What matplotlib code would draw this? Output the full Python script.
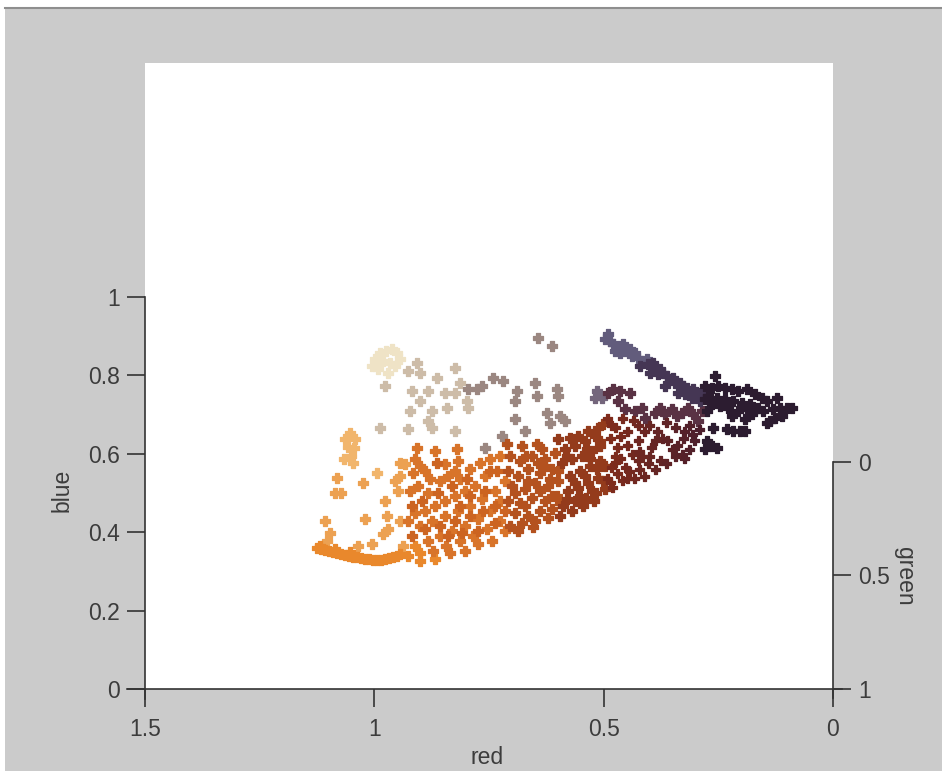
import matplotlib
matplotlib.use("Agg")
import matplotlib.pyplot as plt
from matplotlib.patches import Rectangle
from matplotlib.lines import Line2D
import numpy as np

plt.rcParams['font.family'] = ['Liberation Sans', 'DejaVu Sans']

# ---------------- data (red, blue) per colour group ----------------
cream_red = [0.998, 0.988, 0.975, 0.961, 0.951, 0.981, 0.966, 0.992, 0.955, 1.005, 0.970, 0.944]
cream_blue = [0.842, 0.857, 0.862, 0.867, 0.857, 0.837, 0.832, 0.816, 0.824, 0.824, 0.806, 0.842]

tan_red = [0.977, 0.988, 0.927, 0.907, 0.900, 0.863, 0.824, 0.813, 0.918, 0.883, 0.846, 0.824,
           0.900, 0.922, 0.874, 0.842, 0.883, 0.927, 0.874, 0.824, 0.798, 0.796]
tan_blue = [0.773, 0.666, 0.811, 0.832, 0.806, 0.793, 0.819, 0.781, 0.760, 0.760, 0.755, 0.755,
            0.735, 0.709, 0.709, 0.717, 0.684, 0.663, 0.666, 0.658, 0.735, 0.717]

graybrown_red = [0.796, 0.776, 0.765, 0.741, 0.719, 0.643, 0.613, 0.650, 0.645, 0.689, 0.693,
                 0.602, 0.600, 0.623, 0.595, 0.584, 0.617, 0.693, 0.671, 0.722, 0.759]
graybrown_blue = [0.765, 0.765, 0.773, 0.793, 0.786, 0.895, 0.875, 0.781, 0.747, 0.760, 0.735,
                  0.765, 0.747, 0.704, 0.696, 0.684, 0.679, 0.689, 0.658, 0.645, 0.615]

graypurple_red = [0.514, 0.519, 0.504]
graypurple_blue = [0.760, 0.742, 0.742]

lightorange_red = [1.053, 1.064, 1.042, 1.057, 1.044, 1.051, 1.066, 1.047, 0.994]
lightorange_blue = [0.653, 0.638, 0.638, 0.617, 0.615, 0.594, 0.587, 0.577, 0.551]

paleorange_red = [1.081, 1.025, 1.086, 1.073, 0.955, 0.948, 0.977, 0.933, 0.944, 1.108, 1.020,
                  0.972, 1.097, 0.981, 0.970, 1.036, 1.005, 1.103, 0.944, 0.944, 0.937]
paleorange_blue = [0.538, 0.526, 0.500, 0.500, 0.531, 0.505, 0.480, 0.574, 0.577, 0.429, 0.434,
                   0.441, 0.398, 0.395, 0.408, 0.365, 0.370, 0.378, 0.543, 0.429, 0.365]

band_red = [1.125, 1.116, 1.108, 1.099, 1.090, 1.081, 1.073, 1.064, 1.055, 1.047, 1.038, 1.029,
            1.020, 1.012, 1.003, 0.994, 0.985, 0.977, 0.968, 0.959, 0.951, 1.118, 1.086, 1.053,
            0.944, 0.927, 0.900, 0.900, 0.868, 0.911]
band_blue = [0.360, 0.357, 0.355, 0.352, 0.349, 0.347, 0.344, 0.342, 0.339, 0.337, 0.337, 0.334,
             0.332, 0.332, 0.329, 0.329, 0.329, 0.332, 0.334, 0.337, 0.339, 0.365, 0.357, 0.349,
             0.344, 0.339, 0.327, 0.347, 0.332, 0.365]

darkorange_red = [0.911, 0.900, 0.916, 0.889, 0.879, 0.905, 0.922, 0.883, 0.857, 0.839, 0.824,
                  0.813, 0.791, 0.770, 0.748, 0.726, 0.759, 0.780, 0.802, 0.824, 0.846, 0.868,
                  0.889, 0.911, 0.927, 0.900, 0.874, 0.846, 0.818, 0.791, 0.765, 0.737, 0.715,
                  0.726, 0.748, 0.774, 0.802, 0.831, 0.857, 0.883, 0.844, 0.813, 0.785, 0.754,
                  0.726, 0.715, 0.743, 0.774, 0.802, 0.835, 0.872, 0.907, 0.868, 0.846, 0.820,
                  0.818]
darkorange_blue = [0.587, 0.569, 0.551, 0.556, 0.536, 0.518, 0.505, 0.500, 0.531, 0.543, 0.556,
                   0.536, 0.561, 0.577, 0.587, 0.594, 0.543, 0.518, 0.505, 0.492, 0.480, 0.467,
                   0.454, 0.449, 0.429, 0.416, 0.429, 0.441, 0.454, 0.467, 0.485, 0.505, 0.531,
                   0.480, 0.454, 0.434, 0.416, 0.403, 0.390, 0.378, 0.365, 0.378, 0.390, 0.408,
                   0.429, 0.403, 0.378, 0.370, 0.352, 0.347, 0.352, 0.615, 0.607, 0.574, 0.612,
                   0.582]

deeporange_red = [0.863, 0.831, 0.798, 0.748, 0.737, 0.763, 0.791, 0.824, 0.857, 0.889, 0.918,
                  0.839, 0.809, 0.774, 0.737, 0.759, 0.791, 0.861, 0.896, 0.918, 0.813, 0.715,
                  0.733]
deeporange_blue = [0.577, 0.518, 0.536, 0.556, 0.467, 0.454, 0.441, 0.429, 0.416, 0.408, 0.390,
                   0.390, 0.398, 0.403, 0.423, 0.505, 0.492, 0.500, 0.480, 0.467, 0.467, 0.454,
                   0.556]

burnt_red = [0.704, 0.682, 0.656, 0.628, 0.606, 0.709, 0.687, 0.665, 0.639, 0.613, 0.700, 0.671,
             0.650, 0.621, 0.600, 0.709, 0.682, 0.656, 0.628, 0.602, 0.693, 0.665, 0.639, 0.613,
             0.704, 0.678, 0.650, 0.621, 0.711, 0.678, 0.645, 0.634, 0.669, 0.643, 0.617, 0.665,
             0.693, 0.639, 0.613, 0.671, 0.595, 0.654, 0.687, 0.628, 0.600]
burnt_blue = [0.594, 0.582, 0.594, 0.587, 0.602, 0.556, 0.543, 0.561, 0.551, 0.561, 0.518, 0.510,
              0.526, 0.518, 0.531, 0.480, 0.474, 0.487, 0.480, 0.492, 0.449, 0.441, 0.454, 0.459,
              0.416, 0.423, 0.429, 0.436, 0.625, 0.620, 0.625, 0.612, 0.594, 0.577, 0.536, 0.531,
              0.500, 0.505, 0.492, 0.467, 0.474, 0.413, 0.403, 0.569, 0.556]

rust_red = [0.584, 0.562, 0.541, 0.519, 0.591, 0.569, 0.547, 0.525, 0.508, 0.573, 0.552, 0.530,
            0.508, 0.578, 0.556, 0.534, 0.512, 0.589, 0.562, 0.538, 0.517, 0.595, 0.569, 0.545,
            0.521, 0.497, 0.600, 0.573, 0.556, 0.534, 0.512, 0.501, 0.580, 0.536, 0.514, 0.541,
            0.562, 0.525, 0.501, 0.497, 0.552, 0.580, 0.508, 0.530]
rust_blue = [0.612, 0.620, 0.633, 0.645, 0.577, 0.587, 0.594, 0.607, 0.620, 0.543, 0.556, 0.569,
             0.582, 0.505, 0.513, 0.526, 0.538, 0.467, 0.480, 0.487, 0.500, 0.441, 0.454, 0.467,
             0.480, 0.510, 0.638, 0.640, 0.645, 0.658, 0.666, 0.676, 0.594, 0.612, 0.561, 0.543,
             0.526, 0.505, 0.531, 0.569, 0.492, 0.485, 0.633, 0.587]

maroon_red = [0.460, 0.491, 0.436, 0.475, 0.447, 0.410, 0.382, 0.362, 0.344, 0.323, 0.307, 0.327,
              0.371, 0.486, 0.425, 0.469, 0.395, 0.351, 0.329, 0.323, 0.438, 0.377, 0.362, 0.403,
              0.425, 0.453, 0.482, 0.432, 0.460, 0.491, 0.480, 0.464, 0.443, 0.410, 0.388, 0.421,
              0.399, 0.475, 0.290, 0.475, 0.447, 0.416, 0.388, 0.360, 0.340, 0.344, 0.312, 0.301,
              0.469, 0.486, 0.421, 0.447, 0.399, 0.425, 0.482, 0.464, 0.312]
maroon_blue = [0.691, 0.691, 0.684, 0.666, 0.658, 0.658, 0.658, 0.679, 0.666, 0.658, 0.650, 0.638,
               0.638, 0.640, 0.633, 0.615, 0.615, 0.612, 0.599, 0.587, 0.599, 0.582, 0.574, 0.574,
               0.582, 0.564, 0.564, 0.538, 0.531, 0.538, 0.513, 0.587, 0.556, 0.543, 0.561, 0.607,
               0.594, 0.594, 0.663, 0.577, 0.620, 0.594, 0.633, 0.633, 0.620, 0.594, 0.612, 0.633,
               0.551, 0.526, 0.561, 0.536, 0.671, 0.671, 0.671, 0.645, 0.671]

plum_red = [0.491, 0.480, 0.464, 0.443, 0.469, 0.453, 0.432, 0.416, 0.388, 0.377, 0.351, 0.316,
            0.286, 0.305, 0.329, 0.340, 0.366, 0.410, 0.294]
plum_blue = [0.755, 0.765, 0.760, 0.755, 0.735, 0.714, 0.709, 0.717, 0.704, 0.717, 0.714, 0.717,
             0.709, 0.702, 0.704, 0.696, 0.702, 0.691, 0.684]

armlight_red = [0.491, 0.486, 0.480, 0.469, 0.458, 0.453, 0.443, 0.432, 0.438, 0.425, 0.416,
                0.406, 0.497, 0.475, 0.464]
armlight_blue = [0.906, 0.888, 0.880, 0.875, 0.880, 0.862, 0.867, 0.857, 0.849, 0.844, 0.837,
                 0.842, 0.893, 0.862, 0.857]

armmid_red = [0.403, 0.392, 0.388, 0.377, 0.382, 0.371, 0.362, 0.355, 0.349, 0.344, 0.334, 0.327,
              0.318, 0.312, 0.305, 0.297, 0.286, 0.290, 0.307, 0.323, 0.338, 0.366, 0.399, 0.421]
armmid_blue = [0.829, 0.832, 0.819, 0.816, 0.804, 0.806, 0.798, 0.791, 0.793, 0.781, 0.781, 0.773,
               0.768, 0.760, 0.765, 0.755, 0.753, 0.735, 0.742, 0.753, 0.755, 0.773, 0.806, 0.824]

armdark_red = [0.279, 0.257, 0.279, 0.264, 0.251, 0.235, 0.220, 0.207, 0.187, 0.170, 0.155, 0.144,
               0.273, 0.253, 0.235, 0.218, 0.198, 0.181, 0.164, 0.153, 0.170, 0.187, 0.207, 0.229,
               0.246, 0.264, 0.275, 0.220, 0.192, 0.177, 0.122, 0.131, 0.116, 0.100, 0.089, 0.126,
               0.137, 0.144, 0.111, 0.262, 0.231, 0.218, 0.203, 0.192, 0.275, 0.264, 0.253, 0.279]
armdark_blue = [0.740, 0.798, 0.773, 0.768, 0.773, 0.768, 0.765, 0.760, 0.765, 0.753, 0.742, 0.735,
                0.747, 0.742, 0.740, 0.735, 0.730, 0.727, 0.717, 0.709, 0.714, 0.714, 0.709, 0.717,
                0.722, 0.727, 0.709, 0.696, 0.689, 0.702, 0.742, 0.714, 0.717, 0.717, 0.717, 0.691,
                0.684, 0.679, 0.696, 0.666, 0.663, 0.658, 0.658, 0.658, 0.633, 0.620, 0.615, 0.612]

blue_ticks = [0, 0.2, 0.4, 0.6, 0.8, 1]
blue_ticklabels = ['0', '0.2', '0.4', '0.6', '0.8', '1']
red_ticks = [1.5, 1, 0.5, 0]
red_ticklabels = ['1.5', '1', '0.5', '0']
green_ticks = [0, 0.5, 1]
green_ticklabels = ['0', '0.5', '1']

groups = [
    (tan_red, tan_blue, '#cdbca8'),
    (cream_red, cream_blue, '#efe3c6'),
    (graybrown_red, graybrown_blue, '#9b8781'),
    (graypurple_red, graypurple_blue, '#74667c'),
    (lightorange_red, lightorange_blue, '#f1b56c'),
    (paleorange_red, paleorange_blue, '#eca152'),
    (band_red, band_blue, '#e9882c'),
    (darkorange_red, darkorange_blue, '#d8742a'),
    (deeporange_red, deeporange_blue, '#cc6421'),
    (burnt_red, burnt_blue, '#b4521f'),
    (rust_red, rust_blue, '#943b1c'),
    (plum_red, plum_blue, '#5a3244'),
    (armlight_red, armlight_blue, '#625c7c'),
    (armmid_red, armmid_blue, '#453654'),
    (armdark_red, armdark_blue, '#2c1c30'),
]

# ---------------- figure ----------------
W, H = 942, 771
fig = plt.figure(figsize=(W / 100, H / 100), dpi=100)
fig.patch.set_facecolor('white')
fig.patches.append(Rectangle((5 / W, 0), 1, (H - 8) / H, transform=fig.transFigure,
                             facecolor='#cbcbcb', edgecolor='none', zorder=-10))
fig.lines.append(Line2D([5 / W, 1], [(H - 7.5) / H] * 2, transform=fig.transFigure,
                        color='#8e8e8e', lw=1.5))

ax = fig.add_axes([145 / W, (H - 689) / H, 688 / W, 626 / H])
ax.set_facecolor('white')
ax.set_xlim(1.5, 0)
ax.set_ylim(0, 626 / 392)

MS = 42
LW = 0.9
for r, b, c in groups:
    ax.scatter(r, b, s=MS, marker='P', color=c, edgecolors=c, linewidths=LW, zorder=3)

# maroon group with a gradient towards dark purple for low red
mr = np.array(maroon_red)
t = np.clip((0.49 - mr) / 0.2, 0, 1)[:, None]
c1 = np.array([0x80, 0x2c, 0x1c]) / 255
c2 = np.array([0x4c, 0x1e, 0x2c]) / 255
mcol = (1 - t) * c1 + t * c2
ax.scatter(maroon_red, maroon_blue, s=MS, marker='P', c=mcol, edgecolors=mcol,
           linewidths=LW, zorder=3)

axis_col = '#333333'
tick_col = '#3c3c3c'
for s in ['top', 'right']:
    ax.spines[s].set_visible(False)
ax.spines['left'].set_bounds(-0.026, 1)
ax.spines['bottom'].set_bounds(1.54, -0.02)
for s in ['left', 'bottom']:
    ax.spines[s].set_color(axis_col)
    ax.spines[s].set_linewidth(1.2)

ax.set_yticks(blue_ticks)
ax.set_yticklabels(blue_ticklabels)
ax.set_xticks(red_ticks)
ax.set_xticklabels(red_ticklabels)
ax.tick_params(axis='both', direction='out', length=13, width=1.2, color=axis_col,
               labelsize=16.5, labelcolor=tick_col)
ax.tick_params(axis='y', pad=5)
ax.tick_params(axis='x', pad=8)

ax2 = ax.twinx()
ax2.set_ylim(1, (63 - 461) / 227)
for s in ['top', 'left', 'bottom']:
    ax2.spines[s].set_visible(False)
ax2.spines['right'].set_bounds(0, 1.04)
ax2.spines['right'].set_color(axis_col)
ax2.spines['right'].set_linewidth(1.2)
ax2.set_yticks(green_ticks)
ax2.set_yticklabels(green_ticklabels)
ax2.tick_params(axis='y', direction='out', length=13, width=1.2, color=axis_col,
                labelsize=16.5, labelcolor=tick_col, pad=5)

fig.text(487 / W, 1 - 757 / H, 'red', ha='center', va='center', fontsize=16.5, color=tick_col)
fig.text(62 / W, 1 - 490 / H, 'blue', ha='center', va='center', rotation=90,
         fontsize=16.5, color=tick_col)
fig.text(905 / W, 1 - 576 / H, 'green', ha='center', va='center', rotation=270,
         fontsize=16.5, color=tick_col)

fig.savefig('out.png', dpi=100, facecolor=fig.get_facecolor())
